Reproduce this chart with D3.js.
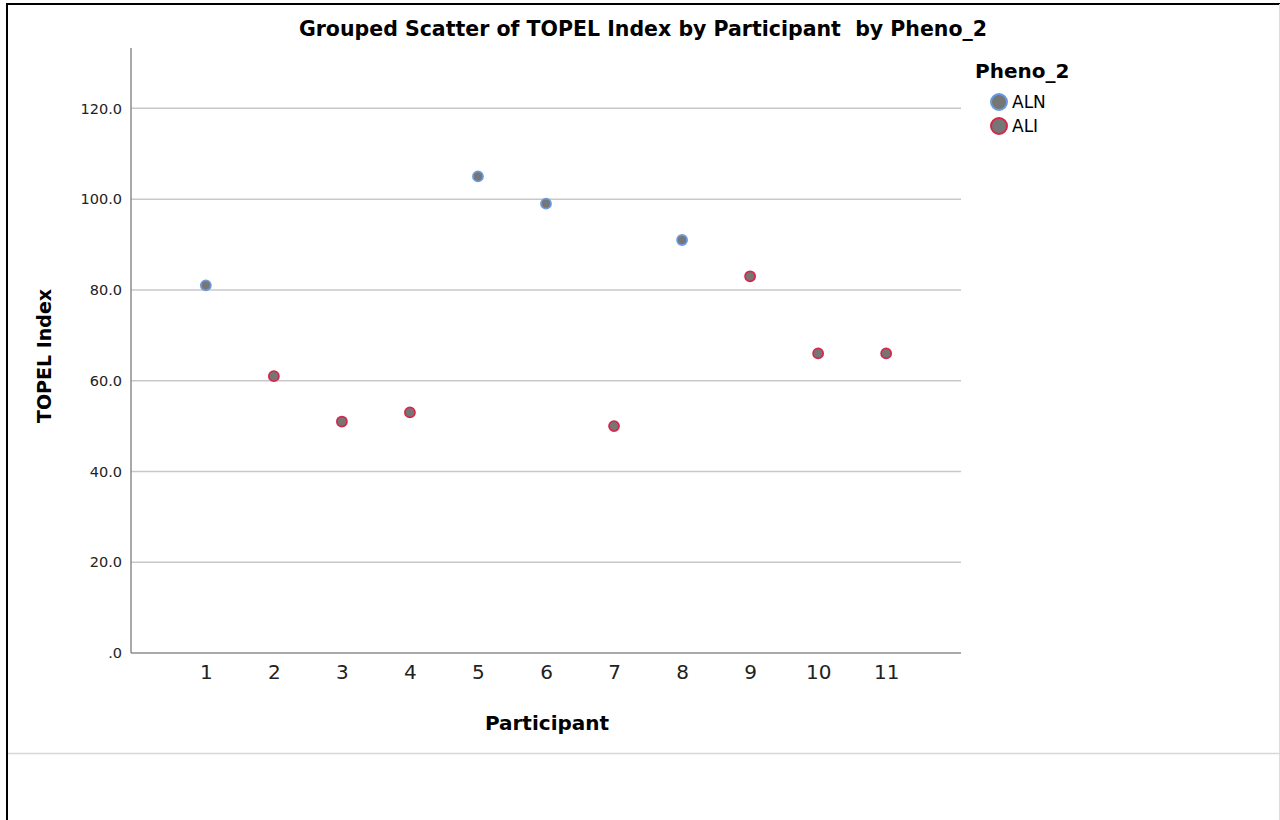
<!DOCTYPE html>
<html>
<head>
<meta charset="utf-8">
<script src="https://cdn.jsdelivr.net/npm/d3@7"></script>
<style>
  body { margin: 0; background: #fff; font-family: "DejaVu Sans", sans-serif; }
  text { font-family: "DejaVu Sans", sans-serif; }
  .grid line { stroke: #c8c8c8; stroke-width: 1.5; }
  .axis path { stroke: #8c8c8c; stroke-width: 1.5; }
  .axis line { display: none; }
  .y.axis text { font-size: 14.5px; fill: #222; }
  .x.axis text { font-size: 20px; fill: #222; }
</style>
</head>
<body>
<script>
// Data
var participants = [1, 2, 3, 4, 5, 6, 7, 8, 9, 10, 11];
var topel = [81, 61, 51, 53, 105, 99, 50, 91, 83, 66, 66];
var pheno = ["ALN", "ALI", "ALI", "ALI", "ALN", "ALN", "ALI", "ALN", "ALI", "ALI", "ALI"];
var groups = ["ALN", "ALI"];
var yTicks = [0, 20, 40, 60, 80, 100, 120];

var data = participants.map(function(p, i) {
  return {participant: p, topel: topel[i], group: pheno[i]};
});

var W = 1280, H = 820;
var margin = {top: 48, left: 131},
    width = 961 - margin.left,
    height = 653 - margin.top;

var xScale = d3.scaleLinear().domain([-0.1, 12.1]).range([0, width]);
var yScale = d3.scaleLinear().domain([0, 133.3]).range([height, 0]);
var stroke = d3.scaleOrdinal().domain(groups).range(["#6a9be0", "#d4284a"]);

var svgRoot = d3.select("body").append("svg")
    .attr("width", W)
    .attr("height", H);

// page frame
svgRoot.append("line").attr("x1", 7).attr("x2", 7).attr("y1", 3).attr("y2", H)
    .attr("stroke", "#000").attr("stroke-width", 2);
svgRoot.append("line").attr("x1", 6).attr("x2", W).attr("y1", 4).attr("y2", 4)
    .attr("stroke", "#000").attr("stroke-width", 2);
svgRoot.append("line").attr("x1", 1279.5).attr("x2", 1279.5).attr("y1", 4).attr("y2", H)
    .attr("stroke", "#ddd").attr("stroke-width", 1);
svgRoot.append("line").attr("x1", 8).attr("x2", W).attr("y1", 753.5).attr("y2", 753.5)
    .attr("stroke", "#d8d8d8").attr("stroke-width", 1.5);

var svg = svgRoot.append("g")
    .attr("transform", "translate(" + margin.left + "," + margin.top + ")");

// gridlines
svg.append("g")
    .attr("class", "grid")
  .selectAll("line")
    .data(yTicks.filter(function(d) { return d > 0; }))
  .enter().append("line")
    .attr("x1", 0)
    .attr("x2", width)
    .attr("y1", function(d) { return yScale(d); })
    .attr("y2", function(d) { return yScale(d); });

// axes
var yAxis = d3.axisLeft(yScale)
    .tickValues(yTicks)
    .tickSize(0)
    .tickPadding(9)
    .tickFormat(function(d) { return d === 0 ? ".0" : d3.format(".1f")(d); });
svg.append("g")
    .attr("class", "y axis")
    .call(yAxis)
    .call(function(g) { g.select(".domain").attr("d", "M0,0V" + height); });

var xAxis = d3.axisBottom(xScale)
    .tickValues(participants)
    .tickSize(0)
    .tickPadding(12)
    .tickFormat(d3.format("d"));
svg.append("g")
    .attr("class", "x axis")
    .attr("transform", "translate(0," + height + ")")
    .call(xAxis)
    .call(function(g) { g.select(".domain").attr("d", "M0,0H" + width); });

// points
svg.append("g")
  .selectAll("circle")
    .data(data)
  .enter().append("circle")
    .attr("cx", function(d) { return xScale(d.participant); })
    .attr("cy", function(d) { return yScale(d.topel); })
    .attr("r", 5)
    .attr("fill", "#767676")
    .attr("stroke", function(d) { return stroke(d.group); })
    .attr("stroke-width", 1.8);

// titles
svgRoot.append("text")
    .attr("x", 643)
    .attr("y", 36)
    .attr("text-anchor", "middle")
    .style("font-size", "20.5px")
    .style("font-weight", "bold")
    .style("white-space", "pre")
    .text("Grouped Scatter of TOPEL Index by Participant  by Pheno_2");

svgRoot.append("text")
    .attr("x", 547)
    .attr("y", 730)
    .attr("text-anchor", "middle")
    .style("font-size", "20px")
    .style("font-weight", "bold")
    .text("Participant");

svgRoot.append("text")
    .attr("transform", "translate(51," + 356 + ") rotate(-90)")
    .attr("text-anchor", "middle")
    .style("font-size", "19px")
    .style("font-weight", "bold")
    .text("TOPEL Index");

// legend
var legend = svgRoot.append("g").attr("transform", "translate(975,0)");
legend.append("text")
    .attr("x", 0)
    .attr("y", 78)
    .style("font-size", "20px")
    .style("font-weight", "bold")
    .text("Pheno_2");
var item = legend.selectAll(".item")
    .data(groups)
  .enter().append("g")
    .attr("class", "item")
    .attr("transform", function(d, i) { return "translate(0," + (102 + i * 24) + ")"; });
item.append("circle")
    .attr("cx", 24)
    .attr("cy", 0)
    .attr("r", 8)
    .attr("fill", "#767676")
    .attr("stroke", function(d) { return stroke(d); })
    .attr("stroke-width", 2);
item.append("text")
    .attr("x", 37)
    .attr("y", 6)
    .style("font-size", "17px")
    .text(function(d) { return d; });
</script>
</body>
</html>
